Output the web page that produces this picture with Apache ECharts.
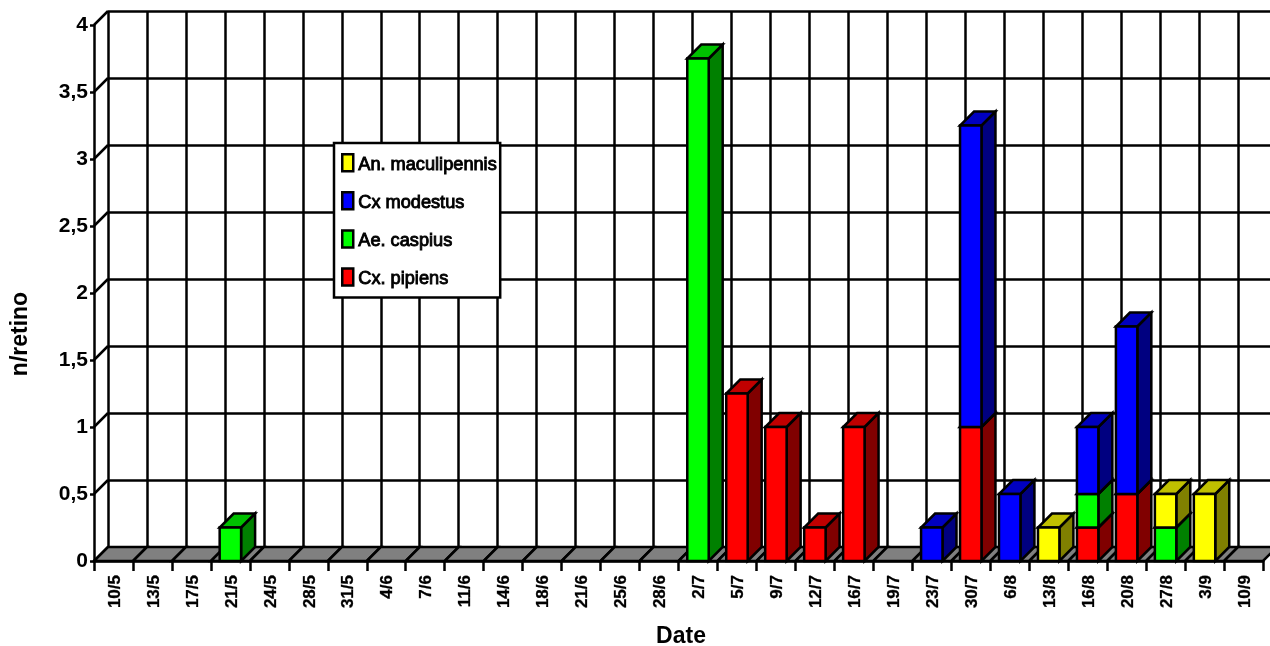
<!DOCTYPE html>
<html>
<head>
<meta charset="utf-8">
<script src="https://cdn.jsdelivr.net/npm/echarts@6/dist/echarts.min.js"></script>
<style>html,body{margin:0;padding:0;background:#fff}#chart{width:1270px;height:646px}</style>
</head>
<body>
<div id="chart"></div>
<script>
// Sampling dates and mean catch per species
const categories = ['10/5','13/5','17/5','21/5','24/5','28/5','31/5','4/6','7/6','11/6','14/6','18/6','21/6','25/6','28/6','2/7','5/7','9/7','12/7','16/7','19/7','23/7','30/7','6/8','13/8','16/8','20/8','27/8','3/9','10/9'];
const cxPipiens       = [0,0,0,0,0,0,0,0,0,0,0,0,0,0,0,0,1.25,1,0.25,1,0,0,1,0,0,0.25,0.5,0,0,0];
const aeCaspius       = [0,0,0,0.25,0,0,0,0,0,0,0,0,0,0,0,3.75,0,0,0,0,0,0,0,0,0,0.25,0,0.25,0,0];
const cxModestus      = [0,0,0,0,0,0,0,0,0,0,0,0,0,0,0,0,0,0,0,0,0,0.25,2.25,0.5,0,0.5,1.25,0,0,0];
const anMaculipennis  = [0,0,0,0,0,0,0,0,0,0,0,0,0,0,0,0,0,0,0,0,0,0,0,0,0.25,0,0,0.25,0.5,0];
const yTicks = [0,0.5,1,1.5,2,2.5,3,3.5,4];

// Stacked species, bottom to top: [name, values, front, top, side]
const stackOrder = [
  ['Cx. pipiens', cxPipiens, '#ff0000', '#c00000', '#800000'],
  ['Ae. caspius', aeCaspius, '#00ff00', '#00c000', '#008000'],
  ['Cx modestus', cxModestus, '#0000ff', '#0000c0', '#000080'],
  ['An. maculipennis', anMaculipennis, '#ffff00', '#c0c000', '#808000']
];
const legendOrder = ['An. maculipennis', 'Cx modestus', 'Ae. caspius', 'Cx. pipiens'];

const DEPTH = 14;
const FONT = '"Liberation Sans", Arial, sans-serif';
const EDGE = { stroke: '#000', lineWidth: 2.5 };
const RULE = { color: '#000', width: 2.5 };

function poly(points, fill) {
  return { type: 'polygon', shape: { points }, style: Object.assign({ fill }, EDGE) };
}

function renderBox(colors) {
  return function (params, api) {
    const value = api.value(1), base = api.value(2);
    if (!value) return null;
    const cat = api.value(0);
    const lo = api.coord([cat, base]);
    const hi = api.coord([cat, base + value]);
    const half = api.size([1, 0])[0] * 0.275;
    const l = lo[0] - half, r = lo[0] + half, b = lo[1], t = hi[1];
    return { type: 'group', children: [
      poly([[r, b], [r + DEPTH, b - DEPTH], [r + DEPTH, t - DEPTH], [r, t]], colors[2]),
      poly([[l, t], [r, t], [r + DEPTH, t - DEPTH], [l + DEPTH, t - DEPTH]], colors[1]),
      poly([[l, b], [r, b], [r, t], [l, t]], colors[0])
    ] };
  };
}

const running = categories.map(() => 0);
const barSeries = stackOrder.map(([name, values, front, top, side]) => {
  const data = values.map((v, i) => {
    const item = [i, v, running[i]];
    running[i] += v;
    return item;
  });
  return {
    name, type: 'custom', xAxisIndex: 0, yAxisIndex: 0, z: 5,
    itemStyle: { color: front },
    encode: { x: 0, y: 1 },
    renderItem: renderBox([front, top, side]),
    data
  };
});

const floorSeries = {
  type: 'custom', xAxisIndex: 0, yAxisIndex: 0, z: 2, silent: true,
  encode: { x: 0, y: 1 },
  renderItem(params, api) {
    const c = api.coord([api.value(0), 0]);
    const half = api.size([1, 0])[0] / 2;
    const l = c[0] - half, r = c[0] + half, b = c[1];
    return poly([[l, b], [r, b], [r + DEPTH, b - DEPTH], [l + DEPTH, b - DEPTH]], '#808080');
  },
  data: categories.map((_, i) => [i, 0])
};

const wallSeries = {
  type: 'custom', xAxisIndex: 0, yAxisIndex: 0, z: 1, silent: true,
  encode: { x: 0, y: 1 },
  renderItem(params, api) {
    const c = api.coord([0, api.value(1)]);
    const x = c[0] - api.size([1, 0])[0] / 2;
    return { type: 'line', shape: { x1: x, y1: c[1], x2: x + DEPTH, y2: c[1] - DEPTH }, style: EDGE };
  },
  data: yTicks.map(v => [0, v])
};

const legendText = { color: '#000', fontFamily: FONT, fontSize: 18.2, textBorderColor: '#000', textBorderWidth: 0.9 };
const tickText = { color: '#000', fontFamily: FONT, fontWeight: 'bold', fontSize: 17, textBorderColor: '#000', textBorderWidth: 0.3 };

const option = {
  animation: false,
  backgroundColor: '#fff',
  grid: [
    { left: 94, right: 7, top: 25, bottom: 85, outerBoundsMode: 'none' },
    { left: 94 + DEPTH, right: 7 - DEPTH, top: 25 - DEPTH, bottom: 85 + DEPTH, outerBoundsMode: 'none' }
  ],
  xAxis: [
    {
      type: 'category', gridIndex: 0, data: categories, boundaryGap: true,
      axisLine: { lineStyle: RULE },
      axisTick: { show: true, interval: 0, length: 10, lineStyle: RULE },
      axisLabel: Object.assign({ interval: 0, rotate: 90, margin: 14,
        formatter: v => `{t|${v}}`,
        rich: { t: Object.assign({ padding: [3, 0, 0, 0] }, tickText) } }, tickText),
      splitLine: { show: false },
      name: 'Date', nameLocation: 'middle', nameGap: 64,
      nameTextStyle: { color: '#000', fontFamily: FONT, fontWeight: 'bold', fontSize: 23, padding: [0, 0, 0, 5] }
    },
    {
      type: 'category', gridIndex: 1, data: categories, boundaryGap: true,
      axisLine: { show: false }, axisTick: { show: false }, axisLabel: { show: false },
      splitLine: { show: true, interval: 0, lineStyle: RULE }
    }
  ],
  yAxis: [
    {
      type: 'value', gridIndex: 0, min: 0, max: 4, interval: 0.5,
      axisLine: { show: true, lineStyle: RULE },
      axisTick: { show: true, length: 4, lineStyle: RULE },
      axisLabel: { margin: 6, color: '#000', fontFamily: FONT, fontWeight: 'bold', fontSize: 21,
        formatter: v => String(v).replace('.', ',') },
      splitLine: { show: false },
      name: 'n/retino', nameLocation: 'middle', nameGap: 62,
      nameTextStyle: { color: '#000', fontFamily: FONT, fontWeight: 'bold', fontSize: 23, padding: [0, 82, 0, 0] }
    },
    {
      type: 'value', gridIndex: 1, min: 0, max: 4, interval: 0.5,
      axisLine: { show: false }, axisTick: { show: false }, axisLabel: { show: false },
      splitLine: { show: true, lineStyle: RULE }
    }
  ],
  legend: {
    orient: 'vertical', left: 334, top: 143, z: 20,
    data: legendOrder,
    icon: 'rect', itemWidth: 11, itemHeight: 17, itemGap: 16.9,
    padding: [10, 3, 9, 7],
    backgroundColor: '#fff', borderColor: '#000', borderWidth: 2.5,
    itemStyle: { borderColor: '#000', borderWidth: 2.5 },
    formatter: name => `{t|${name}}`,
    textStyle: Object.assign({}, legendText, { rich: { t: Object.assign({ padding: [4, 0, 0, 0] }, legendText) } }),
    selectedMode: false
  },
  series: [wallSeries, floorSeries, ...barSeries]
};

echarts.init(document.getElementById('chart'), null, { renderer: 'canvas' }).setOption(option);
</script>
</body>
</html>
